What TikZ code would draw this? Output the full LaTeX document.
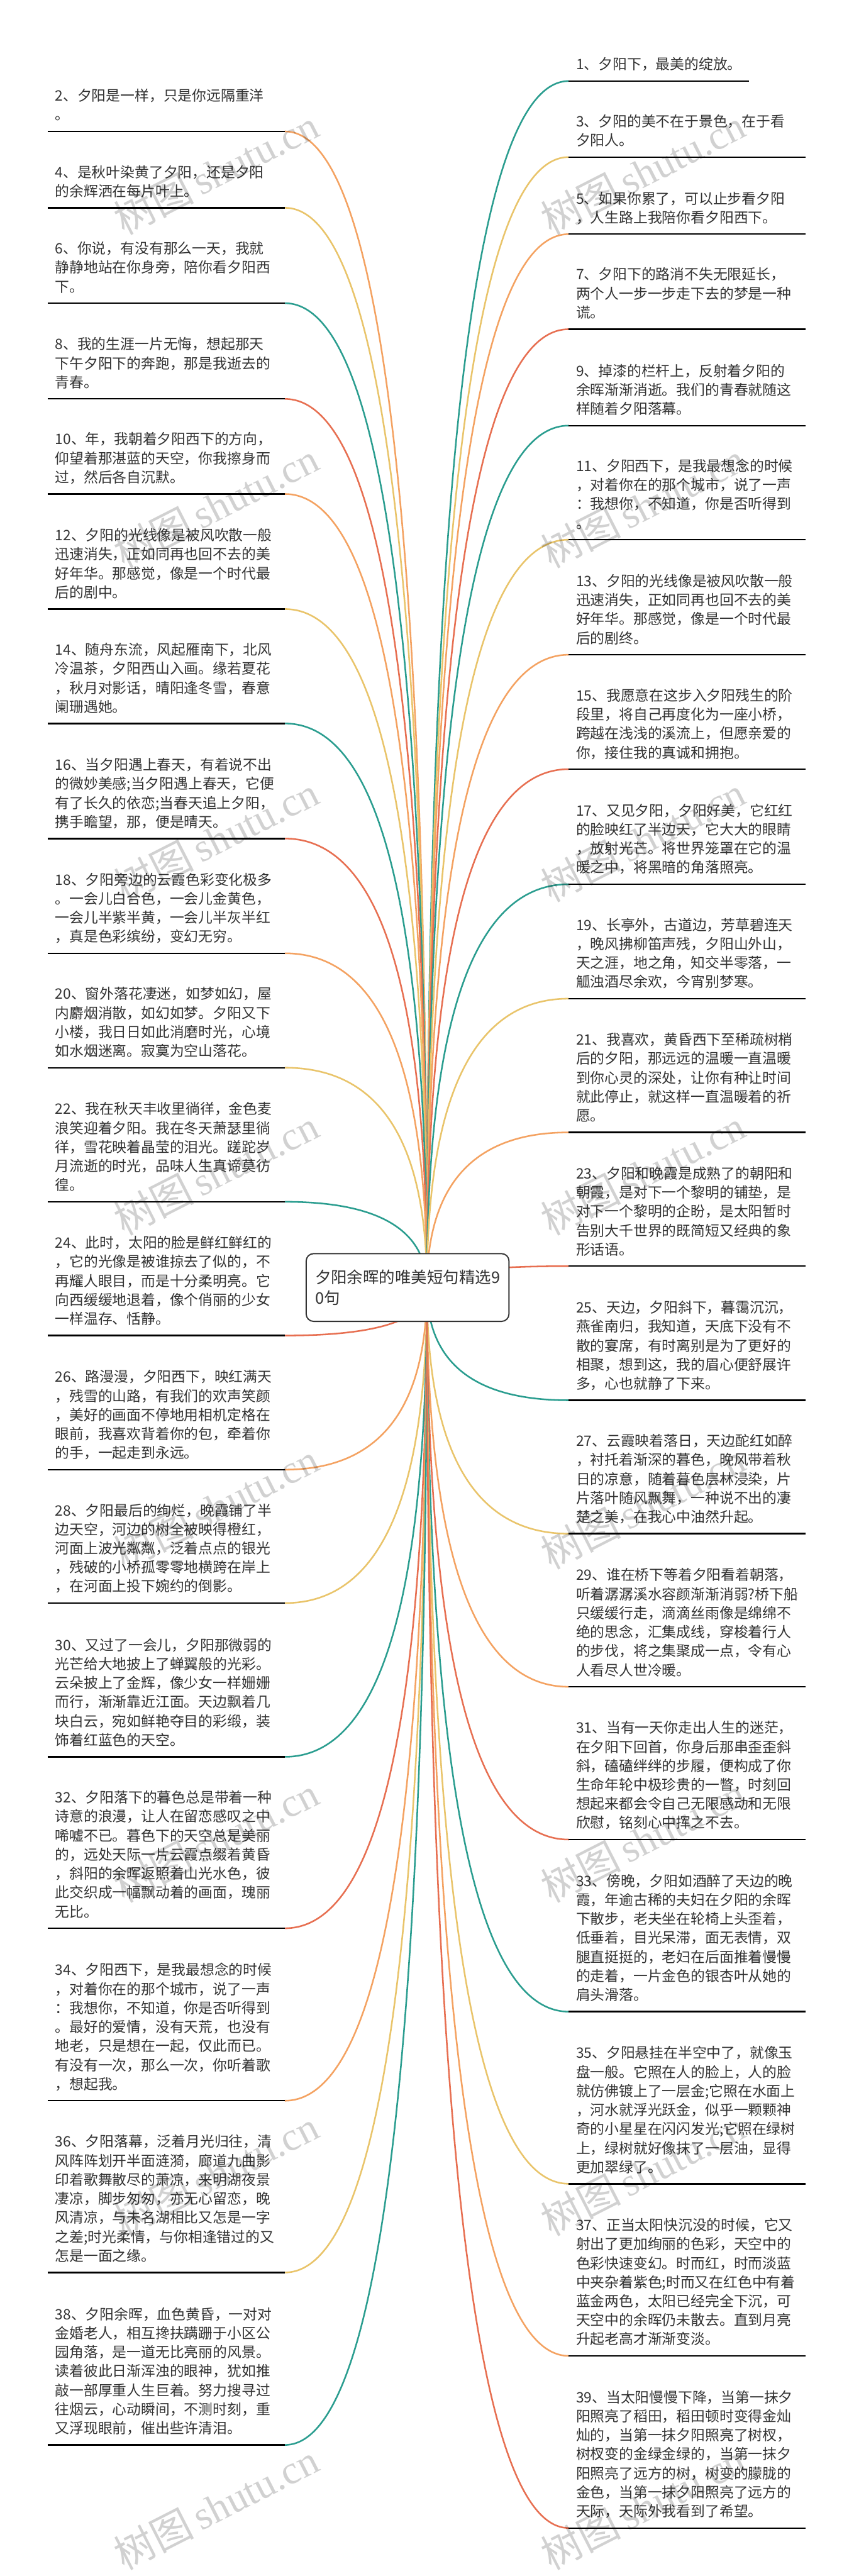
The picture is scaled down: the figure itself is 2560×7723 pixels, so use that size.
\documentclass[tikz,border=0pt]{standalone}
\usepackage{fontspec}
\setmainfont{Noto Sans CJK SC}
\newfontfamily\wmlatin{Liberation Serif}
\usetikzlibrary{calc}
\definecolor{cteal}{HTML}{2A9D8F}
\definecolor{cyel}{HTML}{E9C46A}
\definecolor{cora}{HTML}{F4A261}
\definecolor{cred}{HTML}{E76F51}
\definecolor{txt}{HTML}{333333}
\tikzset{
  itemtext/.style={font=\fontsize{21.5pt}{28.5pt}\selectfont, text=txt, align=left, inner sep=0pt},
  uline/.style={line width=2.2pt, draw=black},
  conn/.style={line width=2.4pt},
  rootbox/.style={draw=txt, line width=1.8pt, rounded corners=11pt, fill=white,
    minimum width=304pt, minimum height=101.5pt, align=left,
    font=\fontsize{24pt}{31pt}\selectfont, text=txt, inner sep=0pt},
  wmark/.style={font=\fontsize{60pt}{60pt}\selectfont, text=black, text opacity=0.18, rotate=27, inner sep=0pt}
}
\newcommand\mmL[4]{%
  \coordinate (#1a) at (854,#2);
  \coordinate (#1b) at (143,#2);
  \coordinate (#1c) at (1280,#2);
  \draw[conn,#3] (#1a) .. controls ($(#1a)!0.6667!(#1c)$) and ($(hub)!0.6667!(#1c)$) .. (hub);
  \draw[uline] (#1b) -- (#1a);
  \node[itemtext,anchor=base west] (#1) at (165,#2-34) {#4};
}
\newcommand\mmR[5]{%
  \coordinate (#1a) at (1705,#2);
  \coordinate (#1b) at (#5,#2);
  \coordinate (#1c) at (1280,#2);
  \draw[conn,#3] (#1a) .. controls ($(#1a)!0.6667!(#1c)$) and ($(hub)!0.6667!(#1c)$) .. (hub);
  \draw[uline] (#1a) -- (#1b);
  \node[itemtext,anchor=base west] (#1) at (1727,#2-34) {#4};
}
\begin{document}
\begin{tikzpicture}[x=0.5pt,y=-0.5pt]
\useasboundingbox (0,0) rectangle (2560,7723);
\fill[white] (0,0) rectangle (2560,7723);
\coordinate (rootc) at (1222,3860);
\coordinate (hub) at (1280,3860);

\mmL{L2}{394}{cora}{2、夕阳是一样，只是你远隔重洋\\。}
\mmL{L4}{623}{cyel}{4、是秋叶染黄了夕阳，还是夕阳\\的余辉洒在每片叶上。}
\mmL{L6}{909}{cteal}{6、你说，有没有那么一天，我就\\静静地站在你身旁，陪你看夕阳西\\下。}
\mmL{L8}{1196}{cred}{8、我的生涯一片无悔，想起那天\\下午夕阳下的奔跑，那是我逝去的\\青春。}
\mmL{L10}{1481}{cora}{10、年，我朝着夕阳西下的方向，\\仰望着那湛蓝的天空，你我擦身而\\过，然后各自沉默。}
\mmL{L12}{1826}{cyel}{12、夕阳的光线像是被风吹散一般\\迅速消失，正如同再也回不去的美\\好年华。那感觉，像是一个时代最\\后的剧中。}
\mmL{L14}{2169}{cteal}{14、随舟东流，风起雁南下，北风\\冷温茶，夕阳西山入画。缘若夏花\\，秋月对影话，晴阳逢冬雪，春意\\阑珊遇她。}
\mmL{L16}{2514}{cred}{16、当夕阳遇上春天，有着说不出\\的微妙美感;当夕阳遇上春天，它便\\有了长久的依恋;当春天追上夕阳，\\携手瞻望，那，便是晴天。}
\mmL{L18}{2858}{cora}{18、夕阳旁边的云霞色彩变化极多\\。一会儿白合色，一会儿金黄色，\\一会儿半紫半黄，一会儿半灰半红\\，真是色彩缤纷，变幻无穷。}
\mmL{L20}{3201}{cyel}{20、窗外落花凄迷，如梦如幻，屋\\内麝烟消散，如幻如梦。夕阳又下\\小楼，我日日如此消磨时光，心境\\如水烟迷离。寂寞为空山落花。}
\mmL{L22}{3603}{cteal}{22、我在秋天丰收里徜徉，金色麦\\浪笑迎着夕阳。我在冬天萧瑟里徜\\徉，雪花映着晶莹的泪光。蹉跎岁\\月流逝的时光，品味人生真谛莫彷\\徨。}
\mmL{L24}{4004}{cred}{24、此时，太阳的脸是鲜红鲜红的\\，它的光像是被谁掠去了似的，不\\再耀人眼目，而是十分柔明亮。它\\向西缓缓地退着，像个俏丽的少女\\一样温存、恬静。}
\mmL{L26}{4406}{cora}{26、路漫漫，夕阳西下，映红满天\\，残雪的山路，有我们的欢声笑颜\\，美好的画面不停地用相机定格在\\眼前，我喜欢背着你的包，牵着你\\的手，一起走到永远。}
\mmL{L28}{4806}{cyel}{28、夕阳最后的绚烂，晚霞铺了半\\边天空，河边的树全被映得橙红，\\河面上波光粼粼，泛着点点的银光\\，残破的小桥孤零零地横跨在岸上\\，在河面上投下婉约的倒影。}
\mmL{L30}{5267}{cteal}{30、又过了一会儿，夕阳那微弱的\\光芒给大地披上了蝉翼般的光彩。\\云朵披上了金辉，像少女一样姗姗\\而行，渐渐靠近江面。天边飘着几\\块白云，宛如鲜艳夺目的彩缎，装\\饰着红蓝色的天空。}
\mmL{L32}{5781}{cred}{32、夕阳落下的暮色总是带着一种\\诗意的浪漫，让人在留恋感叹之中\\唏嘘不已。暮色下的天空总是美丽\\的，远处天际一片云霞点缀着黄昏\\，斜阳的余晖返照着山光水色，彼\\此交织成一幅飘动着的画面，瑰丽\\无比。}
\mmL{L34}{6298}{cora}{34、夕阳西下，是我最想念的时候\\，对着你在的那个城市，说了一声\\：我想你，不知道，你是否听得到\\。最好的爱情，没有天荒，也没有\\地老，只是想在一起，仅此而已。\\有没有一次，那么一次，你听着歌\\，想起我。}
\mmL{L36}{6813}{cyel}{36、夕阳落幕，泛着月光归往，清\\风阵阵划开半面涟漪，廊道九曲影\\印着歌舞散尽的萧凉，来明湖夜景\\凄凉，脚步匆匆，亦无心留恋，晚\\风清凉，与未名湖相比又怎是一字\\之差;时光柔情，与你相逢错过的又\\怎是一面之缘。}
\mmL{L38}{7330}{cteal}{38、夕阳余晖，血色黄昏，一对对\\金婚老人，相互搀扶蹒跚于小区公\\园角落，是一道无比亮丽的风景。\\读着彼此日渐浑浊的眼神，犹如推\\敲一部厚重人生巨着。努力搜寻过\\往烟云，心动瞬间，不测时刻，重\\又浮现眼前，催出些许清泪。}

\mmR{R1}{243}{cteal}{1、夕阳下，最美的绽放。}{2245}
\mmR{R3}{471}{cyel}{3、夕阳的美不在于景色，在于看\\夕阳人。}{2416}
\mmR{R5}{702}{cora}{5、如果你累了，可以止步看夕阳\\，人生路上我陪你看夕阳西下。}{2416}
\mmR{R7}{987}{cred}{7、夕阳下的路消不失无限延长，\\两个人一步一步走下去的梦是一种\\谎。}{2416}
\mmR{R9}{1276}{cteal}{9、掉漆的栏杆上，反射着夕阳的\\余晖渐渐消逝。我们的青春就随这\\样随着夕阳落幕。}{2416}
\mmR{R11}{1618}{cyel}{11、夕阳西下，是我最想念的时候\\，对着你在的那个城市，说了一声\\：我想你，不知道，你是否听得到\\。}{2416}
\mmR{R13}{1963}{cora}{13、夕阳的光线像是被风吹散一般\\迅速消失，正如同再也回不去的美\\好年华。那感觉，像是一个时代最\\后的剧终。}{2416}
\mmR{R15}{2306}{cred}{15、我愿意在这步入夕阳残生的阶\\段里，将自己再度化为一座小桥，\\跨越在浅浅的溪流上，但愿亲爱的\\你，接住我的真诚和拥抱。}{2416}
\mmR{R17}{2651}{cteal}{17、又见夕阳，夕阳好美，它红红\\的脸映红了半边天，它大大的眼睛\\，放射光芒。将世界笼罩在它的温\\暖之中，将黑暗的角落照亮。}{2416}
\mmR{R19}{2994}{cyel}{19、长亭外，古道边，芳草碧连天\\，晚风拂柳笛声残，夕阳山外山，\\天之涯，地之角，知交半零落，一\\觚浊酒尽余欢，今宵别梦寒。}{2416}
\mmR{R21}{3395}{cora}{21、我喜欢，黄昏西下至稀疏树梢\\后的夕阳，那远远的温暖一直温暖\\到你心灵的深处，让你有种让时间\\就此停止，就这样一直温暖着的祈\\愿。}{2416}
\mmR{R23}{3796}{cred}{23、夕阳和晚霞是成熟了的朝阳和\\朝霞，是对下一个黎明的铺垫，是\\对下一个黎明的企盼，是太阳暂时\\告别大千世界的既简短又经典的象\\形话语。}{2416}
\mmR{R25}{4198}{cteal}{25、天边，夕阳斜下，暮霭沉沉，\\燕雀南归，我知道，天底下没有不\\散的宴席，有时离别是为了更好的\\相聚，想到这，我的眉心便舒展许\\多，心也就静了下来。}{2416}
\mmR{R27}{4598}{cyel}{27、云霞映着落日，天边酡红如醉\\，衬托着渐深的暮色，晚风带着秋\\日的凉意，随着暮色层林浸染，片\\片落叶随风飘舞，一种说不出的凄\\楚之美，在我心中油然升起。}{2416}
\mmR{R29}{5057}{cora}{29、谁在桥下等着夕阳看着朝落，\\听着潺潺溪水容颜渐渐消弱?桥下船\\只缓缓行走，滴滴丝雨像是绵绵不\\绝的思念，汇集成线，穿梭着行人\\的步伐，将之集聚成一点，令有心\\人看尽人世冷暖。}{2416}
\mmR{R31}{5515}{cred}{31、当有一天你走出人生的迷茫，\\在夕阳下回首，你身后那串歪歪斜\\斜，磕磕绊绊的步履，便构成了你\\生命年轮中极珍贵的一瞥，时刻回\\想起来都会令自己无限感动和无限\\欣慰，铭刻心中挥之不去。}{2416}
\mmR{R33}{6031}{cteal}{33、傍晚，夕阳如酒醉了天边的晚\\霞，年逾古稀的夫妇在夕阳的余晖\\下散步，老夫坐在轮椅上头歪着，\\低垂着，目光呆滞，面无表情，双\\腿直挺挺的，老妇在后面推着慢慢\\的走着，一片金色的银杏叶从她的\\肩头滑落。}{2416}
\mmR{R35}{6547}{cyel}{35、夕阳悬挂在半空中了，就像玉\\盘一般。它照在人的脸上，人的脸\\就仿佛镀上了一层金;它照在水面上\\，河水就浮光跃金，似乎一颗颗神\\奇的小星星在闪闪发光;它照在绿树\\上，绿树就好像抹了一层油，显得\\更加翠绿了。}{2416}
\mmR{R37}{7063}{cora}{37、正当太阳快沉没的时候，它又\\射出了更加绚丽的色彩，天空中的\\色彩快速变幻。时而红，时而淡蓝\\中夹杂着紫色;时而又在红色中有着\\蓝金两色，太阳已经完全下沉，可\\天空中的余晖仍未散去。直到月亮\\升起老高才渐渐变淡。}{2416}
\mmR{R39}{7579}{cred}{39、当太阳慢慢下降，当第一抹夕\\阳照亮了稻田，稻田顿时变得金灿\\灿的，当第一抹夕阳照亮了树杈，\\树杈变的金绿金绿的，当第一抹夕\\阳照亮了远方的树，树变的朦胧的\\金色，当第一抹夕阳照亮了远方的\\天际，天际外我看到了希望。}{2416}

\node[rootbox] (root) at (rootc) {夕阳余晖的唯美短句精选9\\0句};

\foreach \k in {0,...,7} {
  \node[wmark] (wmL\k) at (648,515+1000*\k) {树图\,{\wmlatin shutu.cn}};
  \node[wmark] (wmR\k) at (1928,515+1000*\k) {树图\,{\wmlatin shutu.cn}};
}
\end{tikzpicture}
\end{document}
